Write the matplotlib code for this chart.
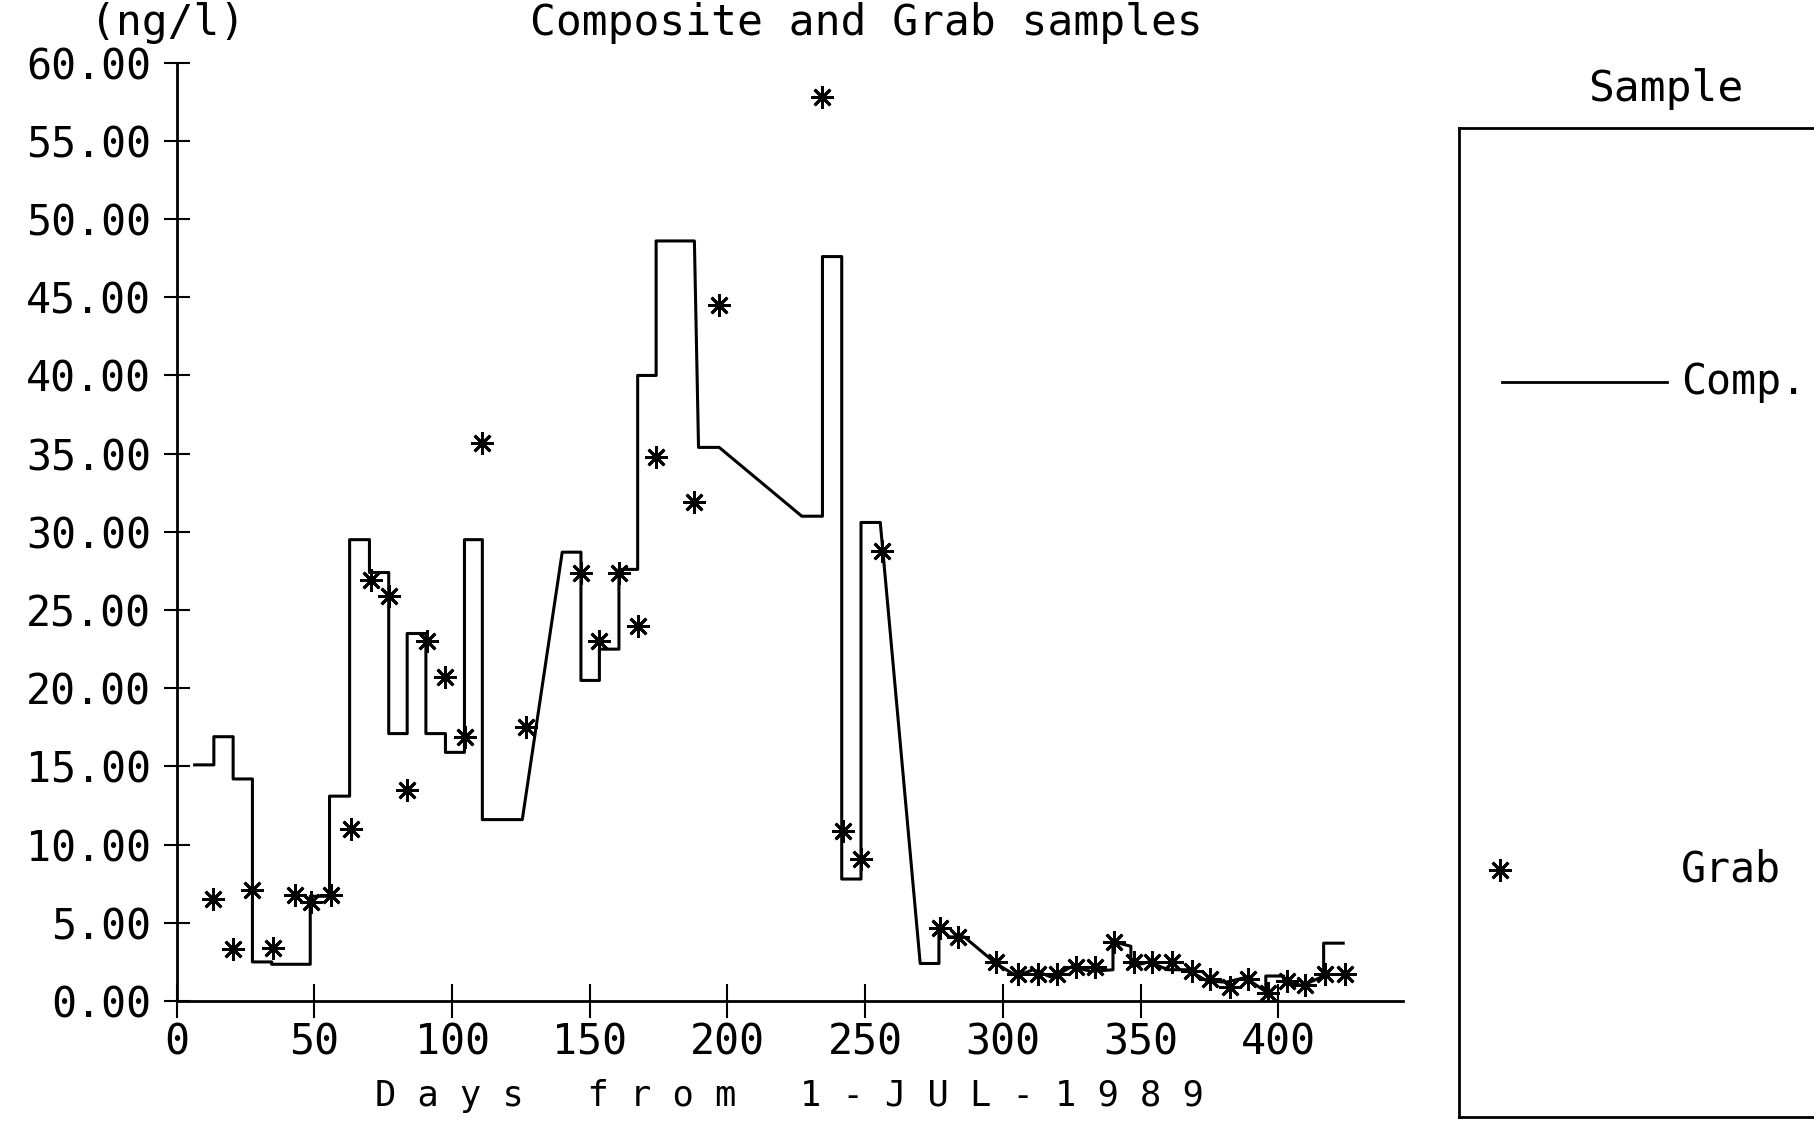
import matplotlib
matplotlib.use("Agg")
import matplotlib.pyplot as plt

plt.rcParams['font.family'] = ['DejaVu Sans Mono']

# Composite samples (step line vertices, days / ng/l)
comp_days = [6.5, 13.5, 13.5, 20.5, 20.5, 27.5, 27.5, 34.5, 34.5, 48.5,
             48.5, 55.5, 55.5, 62.8, 62.8, 70.0, 70.0, 77.0, 77.0, 83.7,
             83.7, 90.5, 90.5, 97.6, 97.6, 104.5, 104.5, 111.0, 111.0, 125.5,
             140.0, 146.8, 146.8, 153.5, 153.5, 160.6, 160.6, 167.4, 167.4, 174.1,
             174.1, 188.0, 189.5, 197.0, 227.0, 234.5, 234.5, 241.5, 241.5, 248.5,
             248.5, 255.5, 270.0, 276.8, 276.8, 280.5, 286.0, 297.5, 305.0, 311.0,
             318.0, 325.0, 332.0, 340.0, 340.0, 346.5, 346.5, 353.0, 360.0, 367.0,
             374.0, 381.0, 388.0, 395.5, 395.5, 402.0, 402.0, 409.0, 416.5, 416.5,
             423.6]
comp_vals = [15.1, 15.1, 16.9, 16.9, 14.2, 14.2, 2.5, 2.5, 2.35, 2.35,
             6.7, 6.7, 13.1, 13.1, 29.5, 29.5, 27.4, 27.4, 17.1, 17.1,
             23.5, 23.5, 17.1, 17.1, 15.9, 15.9, 29.5, 29.5, 11.6, 11.6,
             28.7, 28.7, 20.5, 20.5, 22.5, 22.5, 27.6, 27.6, 40.0, 40.0,
             48.6, 48.6, 35.4, 35.4, 31.0, 31.0, 47.6, 47.6, 7.8, 7.8,
             30.6, 30.6, 2.4, 2.4, 4.8, 4.1, 4.1, 2.4, 1.6, 2.0,
             1.5, 2.2, 1.9, 2.0, 3.8, 3.5, 2.2, 2.5, 2.0, 2.0,
             1.3, 1.2, 1.5, 0.6, 1.6, 1.6, 1.2, 1.0, 1.6, 3.7,
             3.7]

# Grab samples
grab_days = [13.2, 20.3, 27.4, 35.0, 43.0, 48.9, 56.0, 63.2, 70.7, 77.0,
             83.7, 90.9, 97.6, 104.7, 111.0, 127.0, 146.8, 153.5, 160.6, 167.4,
             174.1, 188.0, 196.8, 234.2, 241.8, 248.5, 256.0, 277.1, 283.8, 297.6,
             305.6, 312.8, 319.5, 326.6, 333.3, 340.5, 347.6, 354.3, 361.5, 368.6,
             375.3, 382.5, 389.2, 396.3, 403.1, 409.8, 417.0, 424.1]
grab_vals = [6.5, 3.3, 7.1, 3.4, 6.8, 6.3, 6.8, 11.0, 26.9, 25.9,
             13.5, 23.0, 20.7, 16.9, 35.7, 17.5, 27.4, 23.0, 27.4, 24.0,
             34.8, 31.9, 44.5, 57.8, 10.9, 9.1, 28.8, 4.7, 4.1, 2.5,
             1.7, 1.7, 1.7, 2.2, 2.2, 3.8, 2.5, 2.5, 2.5, 1.9,
             1.4, 0.9, 1.4, 0.5, 1.3, 1.0, 1.7, 1.7]

x_ticks = list(range(0, 401, 50))
y_ticks = list(range(0, 61, 5))

fig = plt.figure(figsize=(18.14, 11.25), dpi=100)
ax = fig.add_axes([0.0974, 0.1102, 0.6760, 0.8341])

ax.plot(comp_days, comp_vals, color="black", linewidth=2.2)
ax.plot(grab_days, grab_vals, linestyle="none", marker=(8, 2, 0),
        markersize=16, markeredgewidth=2, color="black")

ax.set_xlim(0, 445.3)
ax.set_ylim(0, 60)
ax.set_xticks(x_ticks)
ax.set_xticklabels([str(t) for t in x_ticks])
ax.set_yticks(y_ticks)
ax.set_yticklabels(["%.2f" % t for t in y_ticks])
ax.spines["top"].set_visible(False)
ax.spines["right"].set_visible(False)
ax.spines["left"].set_linewidth(2)
ax.spines["bottom"].set_linewidth(2)
ax.tick_params(axis="y", direction="inout", length=19, width=1.5, pad=9, labelsize=30)
ax.tick_params(axis="x", direction="inout", length=24, width=1.5, pad=3, labelsize=30)

ax.set_xlabel("D a y s   f r o m   1 - J U L - 1 9 8 9", fontsize=25.5, labelpad=11)
fig.text(0.0926, 0.980, "(ng/l)", fontsize=31, ha="center", va="center")
fig.text(0.4775, 0.980, "Composite and Grab samples", fontsize=31, ha="center", va="center")

# legend box
lax = fig.add_axes([0.8043, 0.0071, 0.25, 0.8791])
lax.set_xticks([])
lax.set_yticks([])
lax.set_xlim(0, 1)
lax.set_ylim(0, 1)
for s in ["left", "top", "bottom"]:
    lax.spines[s].set_linewidth(2)
lax.spines["right"].set_visible(False)
lax.plot([0.095, 0.459], [0.743, 0.743], color="black", linewidth=2)
lax.text(0.49, 0.743, "Comp.", fontsize=30, va="center", ha="left")
lax.plot([0.090], [0.250], linestyle="none", marker=(8, 2, 0),
         markersize=16, markeredgewidth=2, color="black")
lax.text(0.49, 0.250, "Grab", fontsize=30, va="center", ha="left")
fig.text(0.918, 0.921, "Sample", fontsize=31, ha="center", va="center")

fig.savefig("out.png", dpi=100)
